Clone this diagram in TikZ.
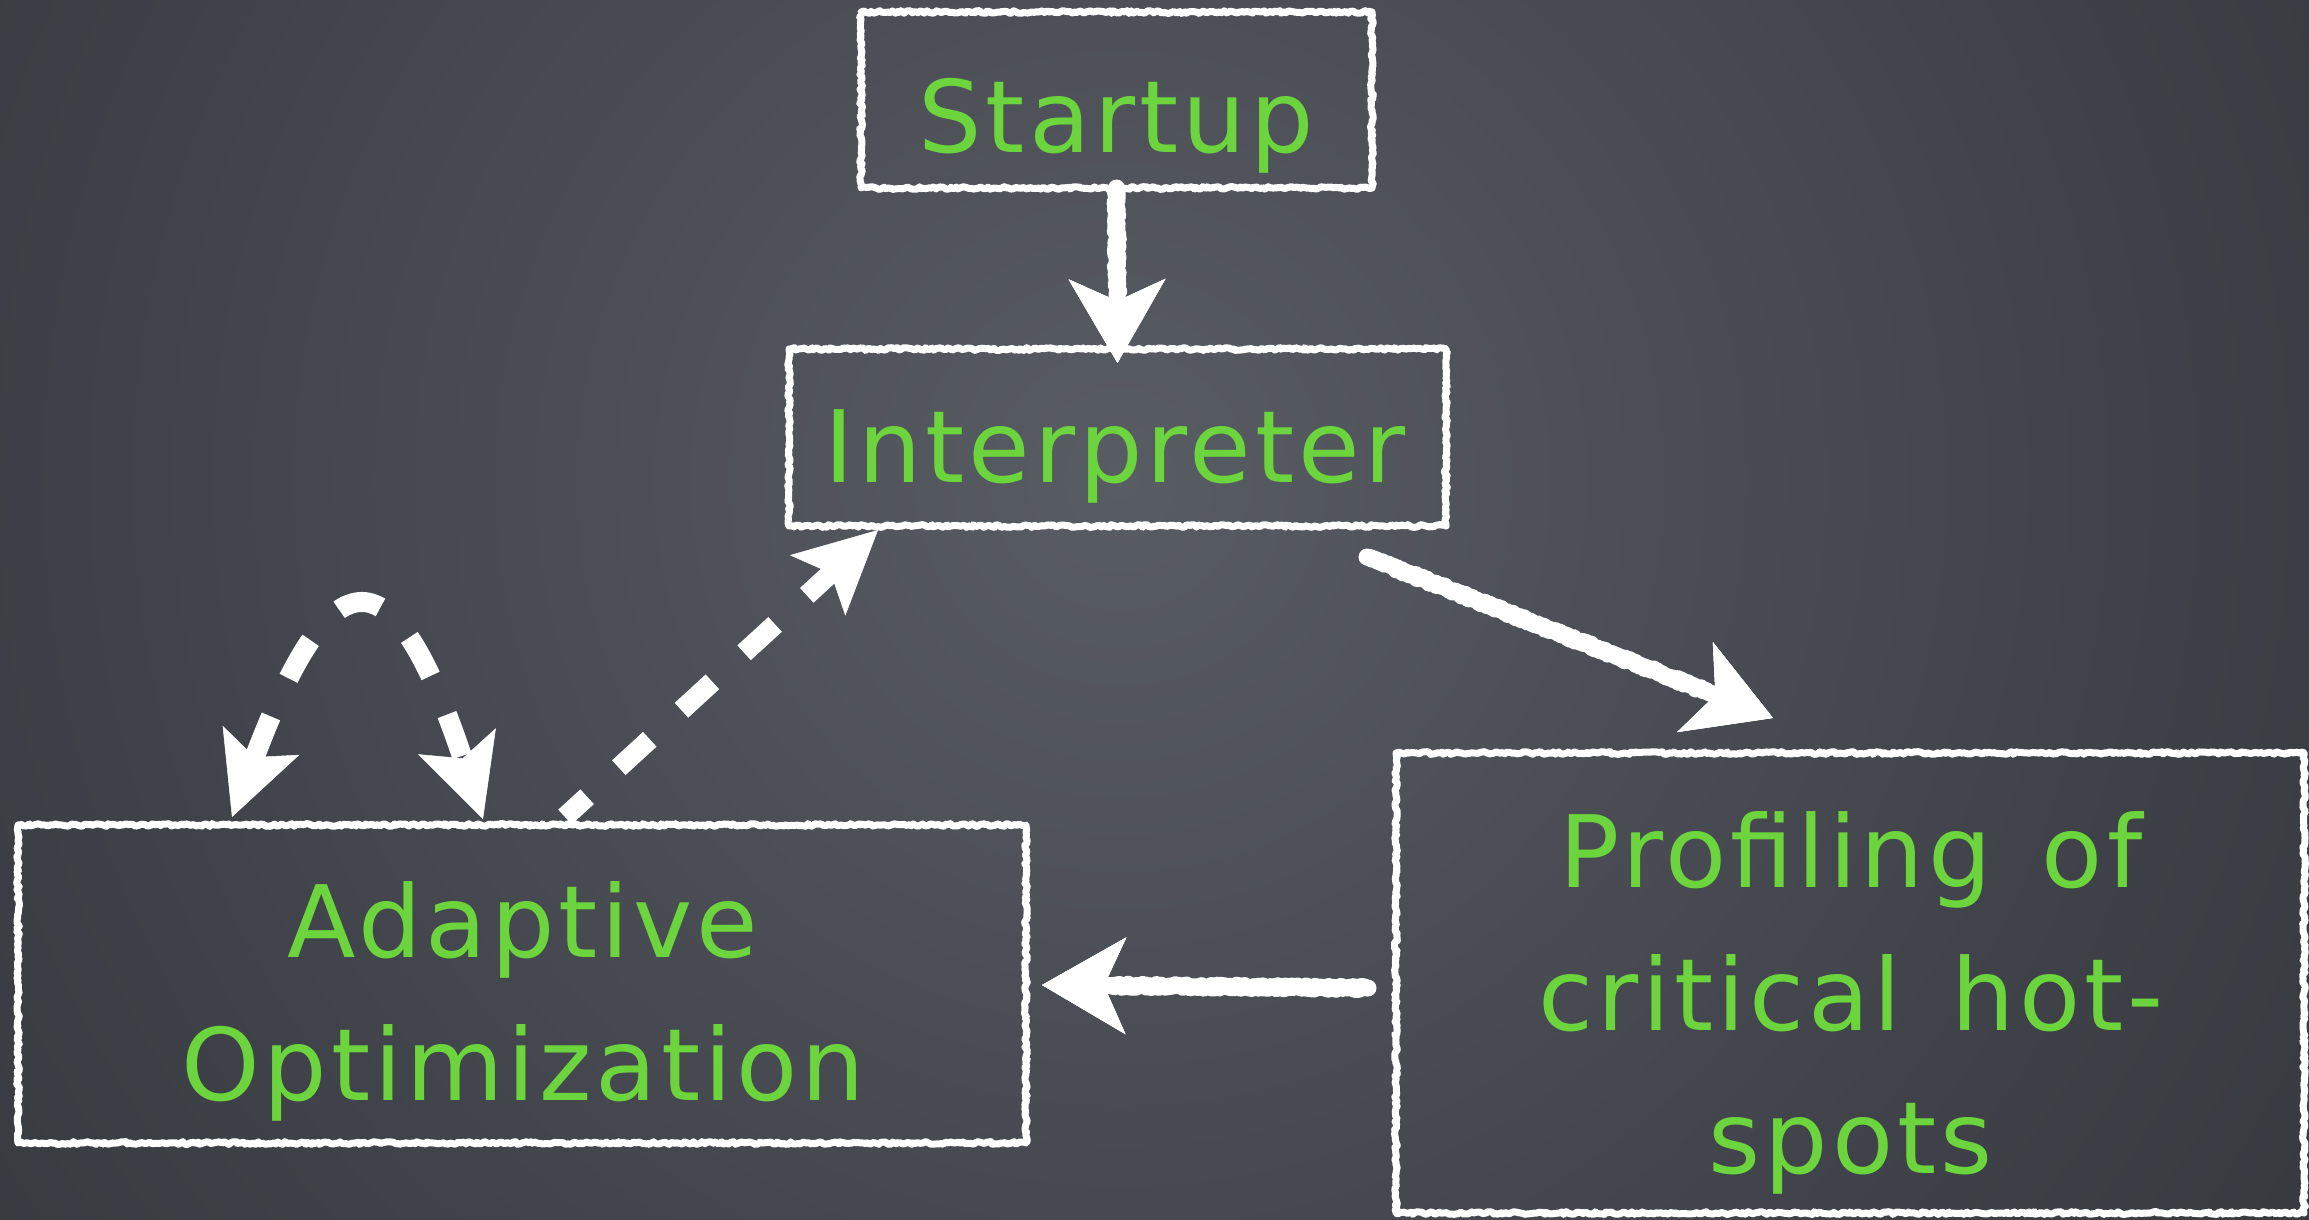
\documentclass[tikz,border=0pt]{standalone}
\usepackage{fontspec}
\setmainfont{DejaVu Sans}[LetterSpace=4, WordSpace=1.4]
\usetikzlibrary{arrows.meta,decorations.pathmorphing,calc}
\definecolor{boardlight}{RGB}{88,92,99}
\definecolor{boardmid}{RGB}{63,66,72}
\definecolor{boarddark}{RGB}{31,33,36}
\definecolor{chalkgreen}{RGB}{108,212,60}
\pgfdeclareradialshading{blackboard}{\pgfpoint{0bp}{0bp}}{color(0bp)=(boardlight); color(18bp)=(boardmid); color(45bp)=(boarddark); color(50bp)=(boarddark)}
\begin{document}
\begin{tikzpicture}[x=1pt,y=-1pt,
  chalkbox/.style={draw=white, line width=7pt, line join=round, decorate,
    decoration={random steps, segment length=2.5pt, amplitude=1.4pt},
    inner sep=0pt, outer sep=0pt},
  chalktext/.style={text=chalkgreen, font=\fontsize{100}{143}\selectfont,
    align=center, inner sep=0pt},
  chalkarrow/.style={draw=white, line width=13pt, line cap=round,
    >={Stealth[length=84pt, width=97pt, inset=22pt, line width=0.5pt]}, ->,
    postaction={draw=white, line width=17pt, line join=round, decorate,
      decoration={random steps, segment length=1.6pt, amplitude=1.6pt,
        pre=lineto, pre length=1pt, post=lineto, post length=70pt}}},
  dasharrow/.style={draw=white, line width=20pt, dash pattern=on 42pt off 43pt,
    >={Stealth[length=82pt, width=82pt, inset=18pt, line width=0.5pt]}},
]
% blackboard background
\begin{scope}
  \clip (0,0) rectangle (2309,1219);
  \shade[shading=blackboard] (1120,480) circle (1400pt);
\end{scope}
\useasboundingbox (0,0) rectangle (2309,1219);

% boxes
\node[chalkbox, minimum width=511pt, minimum height=176pt] (startup) at (1116.5,100) {};
\node[chalkbox, minimum width=657pt, minimum height=177pt] (interp) at (1117.5,437.5) {};
\node[chalkbox, minimum width=1008pt, minimum height=318pt] (adapt) at (522,984) {};
\node[chalkbox, minimum width=908pt, minimum height=460pt] (prof) at (1850,983) {};

% labels (base anchor = baseline of the last line)
\node[chalktext, anchor=base] (startuplbl) at (1116,152) {Startup};
\node[chalktext, anchor=base] (interplbl) at (1115,482) {Interpreter};
\node[chalktext, anchor=base] (adaptlbl) at (523,1100) {Adaptive\\Optimization};
\node[chalktext, anchor=base] (proflbl) at (1851,1173) {Profiling of\\critical hot-\\spots};

% chalk arrows
\draw[chalkarrow] (startup.south) -- ($(interp.north)+(0,14)$);
\draw[chalkarrow] ($(interp.south east)+(-79,31)$) -- ($(prof.north west)+(377,-35)$);
\draw[chalkarrow] ($(prof.west)+(-28,5)$) -- ($(adapt.east)+(16,1)$);

% dashed arrows
\draw[dasharrow, ->, dash phase=12pt] ($(adapt.north west)+(547,-8)$) -- ($(interp.south west)+(89,4)$);
\draw[dasharrow, <->, dash pattern=on 44pt off 42pt]
  ($(adapt.north west)+(214,-8)$)
  .. controls ($(adapt.north west)+(315,-275)$) and ($(adapt.north west)+(375,-275)$) ..
  ($(adapt.north west)+(465,-6)$);
\end{tikzpicture}
\end{document}
